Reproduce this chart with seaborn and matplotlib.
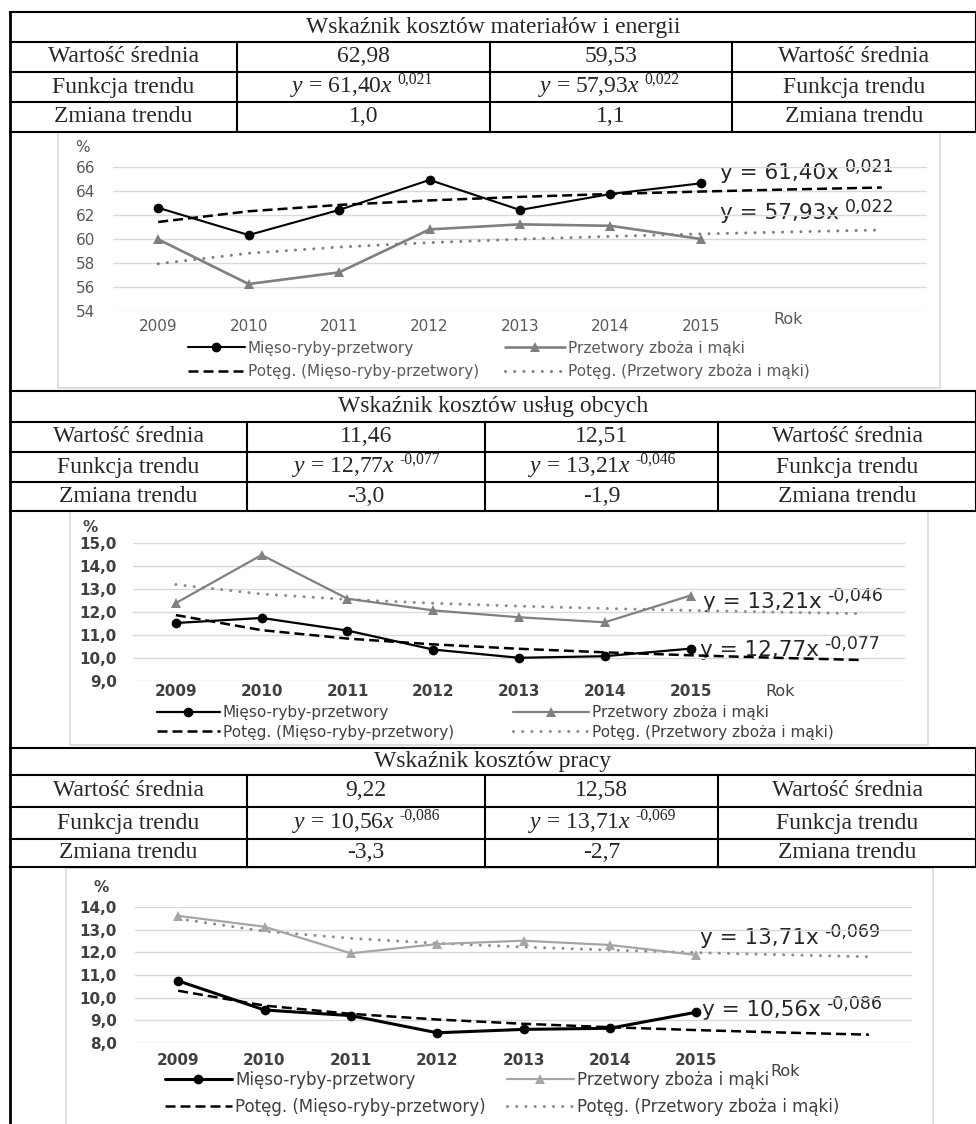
import numpy as np
import matplotlib
matplotlib.use('Agg')
import matplotlib.pyplot as plt
import seaborn as sns
from matplotlib.lines import Line2D
from matplotlib.patches import Rectangle
from matplotlib.ticker import FuncFormatter

sns.set_style('white')
plt.rcParams['font.family'] = ['DejaVu Sans']
plt.rcParams['mathtext.fontset'] = 'custom'
plt.rcParams['mathtext.rm'] = 'Liberation Serif'
plt.rcParams['mathtext.it'] = 'Liberation Serif:italic'

# --- data ---
years = [2009, 2010, 2011, 2012, 2013, 2014, 2015]

mieso_mat = [62.60, 60.33, 62.42, 64.92, 62.42, 63.75, 64.64]
zboza_mat = [59.97, 56.25, 57.22, 60.80, 61.22, 61.10, 60.00]
mieso_usl = [11.52, 11.74, 11.19, 10.36, 10.00, 10.07, 10.40]
zboza_usl = [12.39, 14.49, 12.58, 12.07, 11.77, 11.55, 12.72]
mieso_pr = [10.74, 9.45, 9.20, 8.44, 8.59, 8.64, 9.35]
zboza_pr = [13.62, 13.14, 11.96, 12.37, 12.52, 12.33, 11.89]

section_titles = ['Wskaźnik kosztów materiałów i energii',
                  'Wskaźnik kosztów usług obcych',
                  'Wskaźnik kosztów pracy']
row_labels = ['Wartość średnia', 'Funkcja trendu', 'Zmiana trendu']
mean_mieso = ['62,98', '11,46', '9,22']
mean_zboza = ['59,53', '12,51', '12,58']
coef_mieso = [('61,40', '0,021'), ('12,77', '-0,077'), ('10,56', '-0,086')]
coef_zboza = [('57,93', '0,022'), ('13,21', '-0,046'), ('13,71', '-0,069')]
change_mieso = ['1,0', '-3,0', '-3,3']
change_zboza = ['1,1', '-1,9', '-2,7']

lab_mieso = 'Mięso-ryby-przetwory'
lab_zboza = 'Przetwory zboża i mąki'
lab_tr_mieso = 'Potęg. (Mięso-ryby-przetwory)'
lab_tr_zboza = 'Potęg. (Przetwory zboża i mąki)'

W, H = 976, 1124
fig = plt.figure(figsize=(W / 100, H / 100), dpi=100)
bg = fig.add_axes([0, 0, 1, 1], zorder=0)
bg.set_xlim(0, W)
bg.set_ylim(H, 0)
bg.axis('off')

SERIF = 'Liberation Serif'
TFS = 17


def hline(x0, x1, y, lw=1.5):
    bg.plot([x0, x1], [y, y], color='black', lw=lw, solid_capstyle='projecting')


def vline(x, y0, y1, lw=1.5):
    bg.plot([x, x], [y0, y1], color='black', lw=lw, solid_capstyle='projecting')


def formula(x, y, a, e, fs):
    t = bg.text(x, y, r'$\mathit{y}$ = ' + a + r'$\mathit{x}$', ha='center', va='center',
                family=SERIF, fontsize=fs)
    bg.annotate(e, xy=(1, 0.8), xycoords=t, xytext=(3, 0), textcoords='offset points',
                ha='left', va='center', family=SERIF, fontsize=fs * 0.66)


def draw_table(k, rows, cols):
    for y in rows:
        hline(cols[0], cols[-1], y)
    vline(cols[-1], rows[0], rows[-1])
    for x in cols[1:-1]:
        vline(x, rows[1], rows[-1])
    bg.text((cols[0] + cols[-1]) / 2, (rows[0] + rows[1]) / 2, section_titles[k],
            ha='center', va='center', family=SERIF, fontsize=TFS)
    cells = [
        [row_labels[0], mean_mieso[k], mean_zboza[k], row_labels[0]],
        [row_labels[1], None, None, row_labels[1]],
        [row_labels[2], change_mieso[k], change_zboza[k], row_labels[2]],
    ]
    for r in range(3):
        yc = (rows[r + 1] + rows[r + 2]) / 2
        for c in range(4):
            xc = (cols[c] + cols[c + 1]) / 2
            if cells[r][c] is not None:
                bg.text(xc, yc, cells[r][c], ha='center', va='center', family=SERIF, fontsize=TFS)
    yc = (rows[2] + rows[3]) / 2
    formula((cols[1] + cols[2]) / 2 - 22, yc, coef_mieso[k][0], coef_mieso[k][1], TFS)
    formula((cols[2] + cols[3]) / 2 - 22, yc, coef_zboza[k][0], coef_zboza[k][1], TFS)


def power_trend(vals):
    t = np.arange(1, len(vals) + 1)
    b, lna = np.polyfit(np.log(t), np.log(vals), 1)
    t_ext = np.arange(1, len(vals) + 3)
    return 2008 + t_ext, np.exp(lna) * t_ext ** b


charts = [
    dict(m=mieso_mat, z=zboza_mat, k=0, rect=(113, 927, 167, 311), ylim=(54, 66), step=2, dec=0,
         ypad=13, xpad=5.8, box=(58, 132, 940, 388), pct=(82, 148), rok=(788, 320),
         legy=(348, 372), legx=(188, 505), hl=(3.7, 3.9), tw='normal', lfs=11,
         lab_m=(720, 173), lab_z=(720, 213), gray='#7f7f7f', dot='#808080', txt='#595959',
         lw_m=1.5, lw_z=1.9),
    dict(m=mieso_usl, z=zboza_usl, k=1, rect=(133, 905, 543.3, 680.7), ylim=(9, 15), step=1, dec=1,
         ypad=11.5, xpad=2.4, box=(70, 511, 928, 745), pct=(90, 528), rok=(780, 692),
         legy=(713, 732), legx=(157, 513), hl=(4.1, 5.0), tw='bold', lfs=11,
         lab_m=(700, 650), lab_z=(703, 602), gray='#808080', dot='#8c8c8c', txt='#404040',
         lw_m=1.6, lw_z=1.6),
    dict(m=mieso_pr, z=zboza_pr, k=2, rect=(135, 912, 907.3, 1042.7), ylim=(8, 14), step=1, dec=1,
         ypad=13, xpad=7.5, box=(66, 868, 933, 1126), pct=(101, 887), rok=(785, 1072),
         legy=(1080, 1107), legx=(165, 507), hl=(4.0, 4.0), tw='bold', lfs=12,
         lab_m=(702, 1010), lab_z=(700, 938), gray='#a6a6a6', dot='#8c8c8c', txt='#404040',
         lw_m=2.2, lw_z=1.6),
]

table_rows = [[12, 42, 72, 102, 132], [391, 422, 452, 482, 511], [748, 775, 807, 839, 867]]
table_cols = [[10, 237, 490, 732, 976], [10, 247, 485, 718, 976], [10, 247, 485, 718, 976]]

for k in range(3):
    draw_table(k, table_rows[k], table_cols[k])
vline(10, 12, H + 5, lw=2)

for c in charts:
    x0, y0, x1, y1 = c['box']
    bg.add_patch(Rectangle((x0, y0), x1 - x0, y1 - y0, fill=False, ec='#d9d9d9', lw=1.2))

    l, r, t, b = c['rect']
    ax = fig.add_axes([l / W, 1 - b / H, (r - l) / W, (b - t) / H], zorder=2)
    ax.patch.set_alpha(0)

    yrs_ext, tr_m = power_trend(c['m'])
    _, tr_z = power_trend(c['z'])

    sns.lineplot(x=yrs_ext, y=tr_m, ax=ax, color='black', lw=1.8, linestyle=(0, (4, 2)), zorder=2)
    sns.lineplot(x=yrs_ext, y=tr_z, ax=ax, color=c['dot'], lw=2.2, linestyle=(0, (0.01, 3.0)),
                 dash_capstyle='round', zorder=2)
    sns.lineplot(x=years, y=c['z'], ax=ax, color=c['gray'], lw=c['lw_z'], marker='^',
                 markersize=7.5, markeredgewidth=0, zorder=3)
    sns.lineplot(x=years, y=c['m'], ax=ax, color='black', lw=c['lw_m'], marker='o',
                 markersize=7, markeredgewidth=0, zorder=4)

    ax.set_xlim(2008.5, 2017.5)
    ax.set_ylim(*c['ylim'])
    ax.set_xticks(years)
    ax.set_xticklabels([str(y) for y in years])
    ax.set_yticks(np.arange(c['ylim'][0], c['ylim'][1] + 0.01, c['step']))
    dec = c['dec']
    ax.yaxis.set_major_formatter(FuncFormatter(lambda v, p, d=dec: f'{v:.{d}f}'.replace('.', ',')))
    ax.grid(axis='y', color='#d9d9d9', lw=1)
    ax.grid(axis='x', visible=False)
    for s in ax.spines.values():
        s.set_visible(False)
    ax.tick_params(axis='y', length=0, pad=c['ypad'], labelsize=11, labelcolor=c['txt'])
    ax.tick_params(axis='x', length=0, pad=c['xpad'], labelsize=11, labelcolor=c['txt'])
    for lbl in ax.get_xticklabels() + ax.get_yticklabels():
        lbl.set_fontweight(c['tw'])
    ax.set_xlabel('')
    ax.set_ylabel('')

    bg.text(*c['pct'], '%', ha='center', va='center', fontsize=11, color=c['txt'],
            fontweight=c['tw'])
    bg.text(*c['rok'], 'Rok', ha='center', va='center', fontsize=11.5, color=c['txt'])

    k = c['k']
    for (lx, ly), (a, e) in [(c['lab_m'], coef_mieso[k]), (c['lab_z'], coef_zboza[k])]:
        tx = bg.text(lx, ly, f'y = {a}x', ha='left', va='center', fontsize=15.5, color='#262626')
        bg.annotate(e, xy=(1, 0.8), xycoords=tx, xytext=(4, 0), textcoords='offset points',
                    ha='left', va='center', fontsize=12.5, color='#262626')

    entries = [
        (Line2D([], [], color='black', lw=c['lw_m'], marker='o', markersize=7, mew=0),
         lab_mieso, c['legx'][0], c['legy'][0], c['hl'][0]),
        (Line2D([], [], color='black', lw=1.8, linestyle=(0, (4, 2))),
         lab_tr_mieso, c['legx'][0], c['legy'][1], c['hl'][0]),
        (Line2D([], [], color=c['gray'], lw=c['lw_z'], marker='^', markersize=7.5, mew=0),
         lab_zboza, c['legx'][1], c['legy'][0], c['hl'][1]),
        (Line2D([], [], color=c['dot'], lw=2.2, linestyle=(0, (0.01, 3.0)), dash_capstyle='round'),
         lab_tr_zboza, c['legx'][1], c['legy'][1], c['hl'][1]),
    ]
    for h, lab, lx, ly, hl in entries:
        fig.legend(handles=[h], labels=[lab], loc='center left', bbox_to_anchor=(lx / W, 1 - ly / H),
                   frameon=False, borderpad=0, borderaxespad=0, handlelength=hl,
                   handletextpad=0.2, fontsize=c['lfs'], labelcolor=c['txt'], numpoints=1)

fig.savefig('out.png', dpi=100)
